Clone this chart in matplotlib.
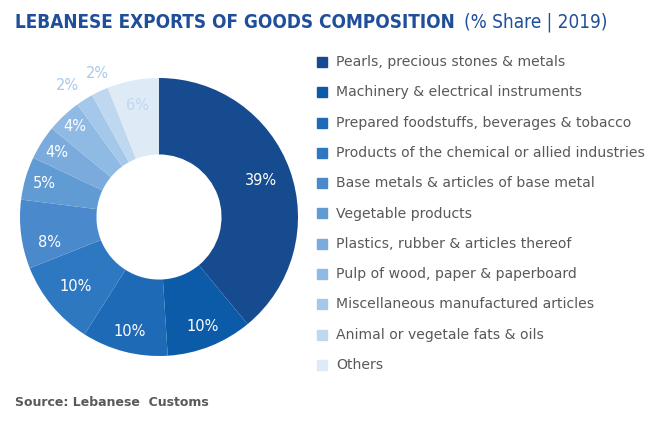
import matplotlib
matplotlib.use("Agg")
import matplotlib.pyplot as plt
import numpy as np

categories = ["Pearls, precious stones & metals",
              "Machinery & electrical instruments",
              "Prepared foodstuffs, beverages & tobacco",
              "Products of the chemical or allied industries",
              "Base metals & articles of base metal",
              "Vegetable products",
              "Plastics, rubber & articles thereof",
              "Pulp of wood, paper & paperboard",
              "Miscellaneous manufactured articles",
              "Animal or vegetale fats & oils",
              "Others"]
shares = [39, 10, 10, 10, 8, 5, 4, 4, 2, 2, 6]

colors = ["#174b8f", "#0b5ba8", "#1f6ab7", "#2e78c2", "#4a89cb", "#619bd4",
          "#7aabdc", "#8fbae3", "#a4c8e9", "#bfd8f0", "#deebf7"]
label_colors = ["white"] * 8 + ["#a9c9ea", "#a9c9ea", "#c2d7ee"]
label_dist = [0.78, 0.85, 0.85, 0.78, 0.81, 0.86, 0.87, 0.89, 1.15, 1.12, 0.82]
label_rot = [0, 0, 0, 0, 6, 0, 0, 0, 2.5, -2, 0]

fig = plt.figure(figsize=(6.6, 4.3), dpi=100)
W, H = 660, 430
cx, cy, R = 159, 217, 139
ax = fig.add_axes([(cx - R) / W, (H - cy - R) / H, 2 * R / W, 2 * R / H])
wedges, _ = ax.pie(shares, colors=colors, startangle=90, counterclock=False,
                   radius=1, wedgeprops=dict(width=0.55, linewidth=0))
ax.set_xlim(-1, 1)
ax.set_ylim(-1, 1)
ax.set_aspect("equal")
ax.axis("off")

for w, v, c, d, r in zip(wedges, shares, label_colors, label_dist, label_rot):
    ang = np.deg2rad((w.theta1 + w.theta2) / 2 + r)
    ax.text(d * np.cos(ang), d * np.sin(ang), f"{v}%", color=c,
            ha="center", va="center", fontsize=10.5, family="DejaVu Sans",
            clip_on=False)

# legend
y0, dy = 62, 30.3
for i, (cat, col) in enumerate(zip(categories, colors)):
    y = y0 + i * dy
    fig.patches.append(plt.Rectangle((317 / W, 1 - (y + 5) / H), 10 / W, 10 / H,
                                     transform=fig.transFigure, color=col))
    fig.text(336 / W, 1 - y / H, cat, ha="left", va="center",
             fontsize=10.1, color="#595959", family="DejaVu Sans")

fig.text(15 / W, 1 - 22 / H, "LEBANESE EXPORTS OF GOODS COMPOSITION",
         ha="left", va="center", fontsize=13.6, fontweight="bold",
         fontstretch="condensed", color="#1f4e9a", family="DejaVu Sans")
fig.text(464 / W, 1 - 22 / H, "(% Share | 2019)",
         ha="left", va="center", fontsize=13.6, fontweight="normal",
         fontstretch="condensed", color="#1f4e9a", family="DejaVu Sans")

fig.text(15 / W, 1 - 402 / H, "Source: Lebanese  Customs", ha="left", va="center",
         fontsize=9, fontweight="bold", color="#595959", family="DejaVu Sans")

fig.savefig("out.png", dpi=100)
